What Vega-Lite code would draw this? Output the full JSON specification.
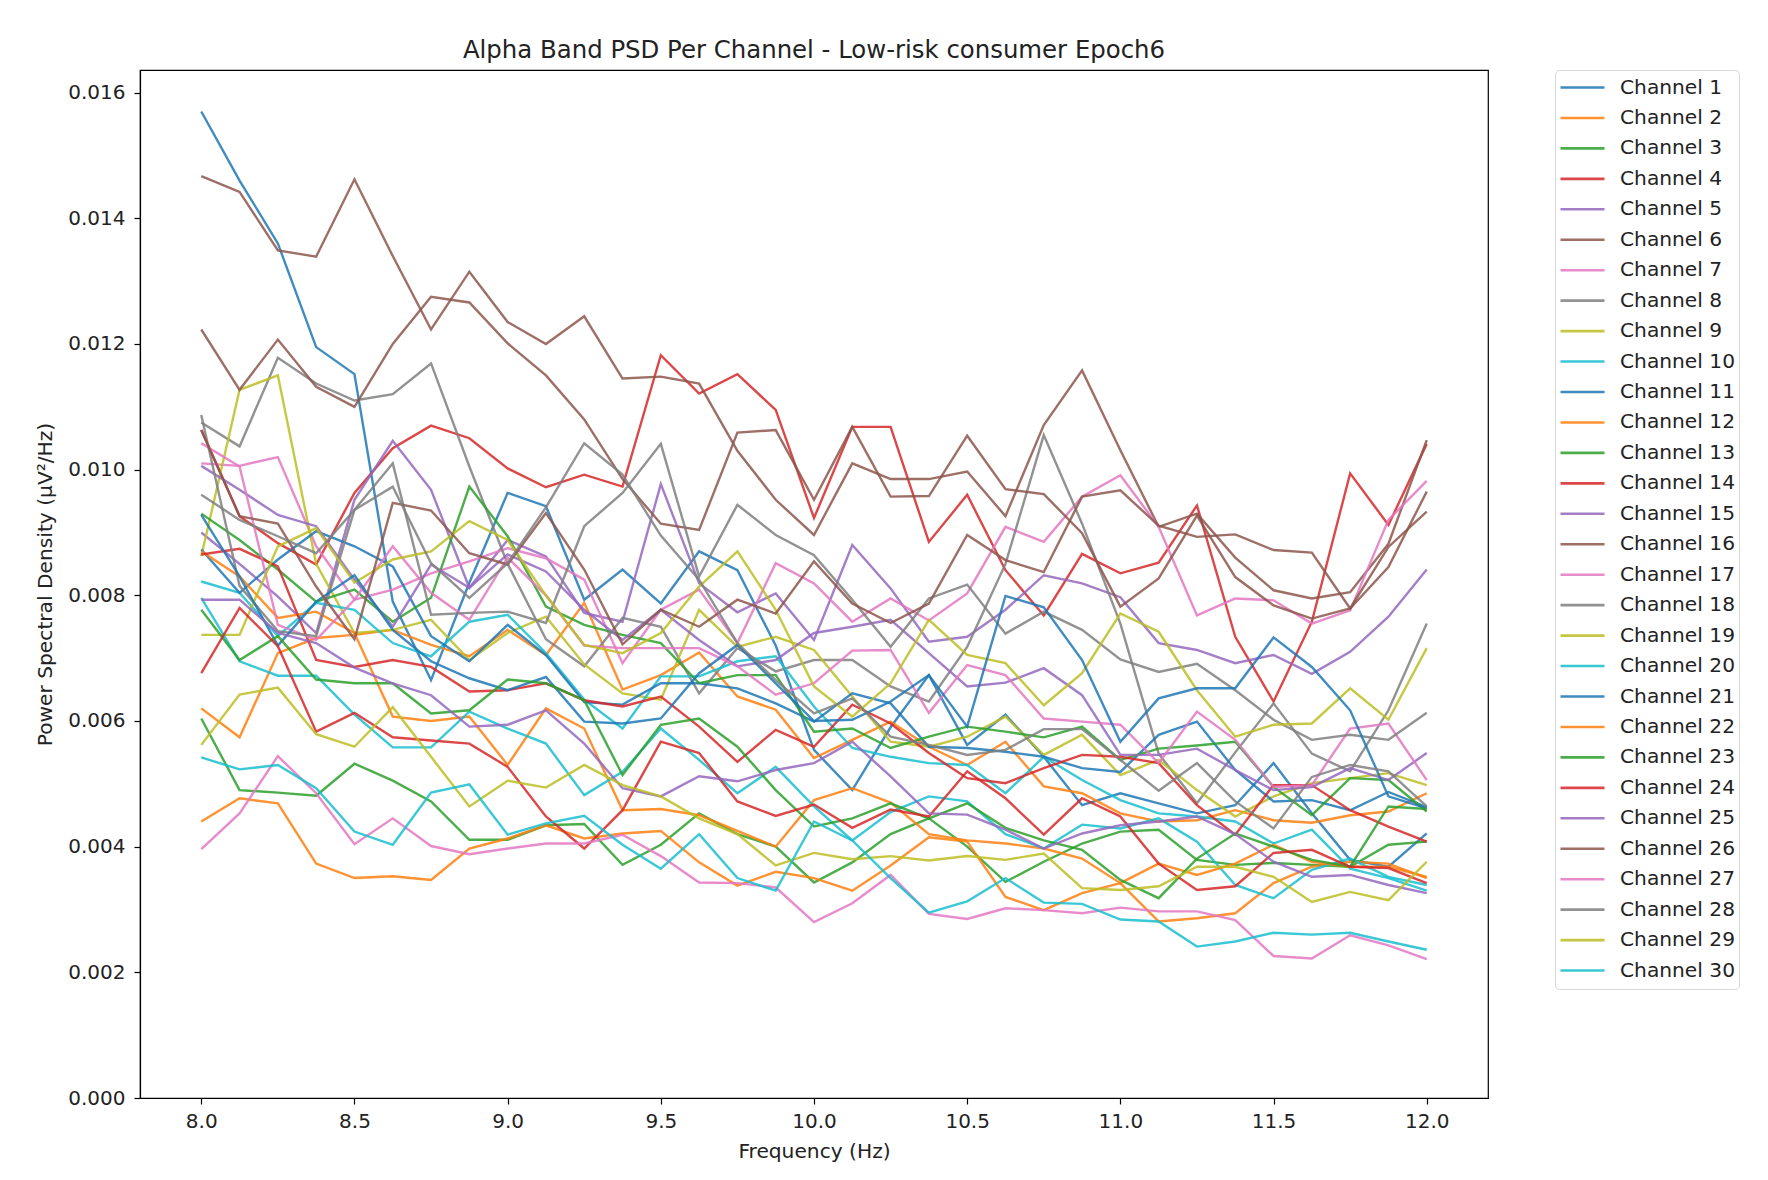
{"$schema":"https://vega.github.io/schema/vega-lite/v6.json","autosize":{"type":"none"},"padding":{"left":140,"top":70,"right":280,"bottom":82},"width":1348,"height":1028,"background":"white","config":{"view":{"stroke":"black","strokeWidth":1.2},"font":"DejaVu Sans"},"title":{"text":"Alpha Band PSD Per Channel - Low-risk consumer Epoch6","font":"DejaVu Sans","fontSize":24.4,"fontWeight":"normal","color":"#222222","anchor":"middle","offset":6},
"data":{"values":[
{"f":8,"c":1,"v":0.0157},{"f":8.125,"c":1,"v":0.0146},{"f":8.25,"c":1,"v":0.0136},{"f":8.375,"c":1,"v":0.01195},{"f":8.5,"c":1,"v":0.01152},{"f":8.625,"c":1,"v":0.0079},{"f":8.75,"c":1,"v":0.00665},{"f":8.875,"c":1,"v":0.0082},{"f":9,"c":1,"v":0.00963},{"f":9.125,"c":1,"v":0.00942},{"f":9.25,"c":1,"v":0.00793},{"f":9.375,"c":1,"v":0.00841},{"f":9.5,"c":1,"v":0.00787},{"f":9.625,"c":1,"v":0.0087},{"f":9.75,"c":1,"v":0.0084},{"f":9.875,"c":1,"v":0.0072},{"f":10,"c":1,"v":0.00554},{"f":10.125,"c":1,"v":0.0049},{"f":10.25,"c":1,"v":0.0059},{"f":10.375,"c":1,"v":0.00673},{"f":10.5,"c":1,"v":0.00562},{"f":10.625,"c":1,"v":0.0061},{"f":10.75,"c":1,"v":0.00543},{"f":10.875,"c":1,"v":0.00466},{"f":11,"c":1,"v":0.00485},{"f":11.125,"c":1,"v":0.00469},{"f":11.25,"c":1,"v":0.00453},{"f":11.375,"c":1,"v":0.00466},{"f":11.5,"c":1,"v":0.00533},{"f":11.625,"c":1,"v":0.00453},{"f":11.75,"c":1,"v":0.00379},{"f":11.875,"c":1,"v":0.00368},{"f":12,"c":1,"v":0.00421},
{"f":8,"c":2,"v":0.0062},{"f":8.125,"c":2,"v":0.00574},{"f":8.25,"c":2,"v":0.00708},{"f":8.375,"c":2,"v":0.00732},{"f":8.5,"c":2,"v":0.00737},{"f":8.625,"c":2,"v":0.00745},{"f":8.75,"c":2,"v":0.00721},{"f":8.875,"c":2,"v":0.00703},{"f":9,"c":2,"v":0.00745},{"f":9.125,"c":2,"v":0.00705},{"f":9.25,"c":2,"v":0.00788},{"f":9.375,"c":2,"v":0.0065},{"f":9.5,"c":2,"v":0.00673},{"f":9.625,"c":2,"v":0.00709},{"f":9.75,"c":2,"v":0.00639},{"f":9.875,"c":2,"v":0.00618},{"f":10,"c":2,"v":0.00541},{"f":10.125,"c":2,"v":0.0057},{"f":10.25,"c":2,"v":0.00599},{"f":10.375,"c":2,"v":0.00559},{"f":10.5,"c":2,"v":0.0053},{"f":10.625,"c":2,"v":0.00567},{"f":10.75,"c":2,"v":0.00496},{"f":10.875,"c":2,"v":0.00485},{"f":11,"c":2,"v":0.00453},{"f":11.125,"c":2,"v":0.0044},{"f":11.25,"c":2,"v":0.00442},{"f":11.375,"c":2,"v":0.00458},{"f":11.5,"c":2,"v":0.00442},{"f":11.625,"c":2,"v":0.00438},{"f":11.75,"c":2,"v":0.0045},{"f":11.875,"c":2,"v":0.00456},{"f":12,"c":2,"v":0.00485},
{"f":8,"c":3,"v":0.00604},{"f":8.125,"c":3,"v":0.0049},{"f":8.25,"c":3,"v":0.00486},{"f":8.375,"c":3,"v":0.00481},{"f":8.5,"c":3,"v":0.00532},{"f":8.625,"c":3,"v":0.00505},{"f":8.75,"c":3,"v":0.00472},{"f":8.875,"c":3,"v":0.00411},{"f":9,"c":3,"v":0.00411},{"f":9.125,"c":3,"v":0.00434},{"f":9.25,"c":3,"v":0.00436},{"f":9.375,"c":3,"v":0.00371},{"f":9.5,"c":3,"v":0.00403},{"f":9.625,"c":3,"v":0.00453},{"f":9.75,"c":3,"v":0.0042},{"f":9.875,"c":3,"v":0.004},{"f":10,"c":3,"v":0.00343},{"f":10.125,"c":3,"v":0.00375},{"f":10.25,"c":3,"v":0.0042},{"f":10.375,"c":3,"v":0.00445},{"f":10.5,"c":3,"v":0.004},{"f":10.625,"c":3,"v":0.00344},{"f":10.75,"c":3,"v":0.00376},{"f":10.875,"c":3,"v":0.00405},{"f":11,"c":3,"v":0.00424},{"f":11.125,"c":3,"v":0.00427},{"f":11.25,"c":3,"v":0.00379},{"f":11.375,"c":3,"v":0.00371},{"f":11.5,"c":3,"v":0.00374},{"f":11.625,"c":3,"v":0.00371},{"f":11.75,"c":3,"v":0.00368},{"f":11.875,"c":3,"v":0.00403},{"f":12,"c":3,"v":0.00408},
{"f":8,"c":4,"v":0.01063},{"f":8.125,"c":4,"v":0.00926},{"f":8.25,"c":4,"v":0.00883},{"f":8.375,"c":4,"v":0.00849},{"f":8.5,"c":4,"v":0.00963},{"f":8.625,"c":4,"v":0.01034},{"f":8.75,"c":4,"v":0.0107},{"f":8.875,"c":4,"v":0.0105},{"f":9,"c":4,"v":0.01002},{"f":9.125,"c":4,"v":0.00972},{"f":9.25,"c":4,"v":0.00992},{"f":9.375,"c":4,"v":0.00973},{"f":9.5,"c":4,"v":0.01182},{"f":9.625,"c":4,"v":0.01121},{"f":9.75,"c":4,"v":0.01152},{"f":9.875,"c":4,"v":0.01095},{"f":10,"c":4,"v":0.00923},{"f":10.125,"c":4,"v":0.01068},{"f":10.25,"c":4,"v":0.01068},{"f":10.375,"c":4,"v":0.00885},{"f":10.5,"c":4,"v":0.0096},{"f":10.625,"c":4,"v":0.0084},{"f":10.75,"c":4,"v":0.00768},{"f":10.875,"c":4,"v":0.00866},{"f":11,"c":4,"v":0.00835},{"f":11.125,"c":4,"v":0.00852},{"f":11.25,"c":4,"v":0.00943},{"f":11.375,"c":4,"v":0.00734},{"f":11.5,"c":4,"v":0.00631},{"f":11.625,"c":4,"v":0.00758},{"f":11.75,"c":4,"v":0.00994},{"f":11.875,"c":4,"v":0.00912},{"f":12,"c":4,"v":0.01041},
{"f":8,"c":5,"v":0.009},{"f":8.125,"c":5,"v":0.0085},{"f":8.25,"c":5,"v":0.00798},{"f":8.375,"c":5,"v":0.0074},{"f":8.5,"c":5,"v":0.00952},{"f":8.625,"c":5,"v":0.01046},{"f":8.75,"c":5,"v":0.00968},{"f":8.875,"c":5,"v":0.00812},{"f":9,"c":5,"v":0.00888},{"f":9.125,"c":5,"v":0.00862},{"f":9.25,"c":5,"v":0.00772},{"f":9.375,"c":5,"v":0.00758},{"f":9.5,"c":5,"v":0.00977},{"f":9.625,"c":5,"v":0.00819},{"f":9.75,"c":5,"v":0.00773},{"f":9.875,"c":5,"v":0.00803},{"f":10,"c":5,"v":0.00729},{"f":10.125,"c":5,"v":0.0088},{"f":10.25,"c":5,"v":0.00811},{"f":10.375,"c":5,"v":0.00726},{"f":10.5,"c":5,"v":0.00734},{"f":10.625,"c":5,"v":0.00777},{"f":10.75,"c":5,"v":0.00832},{"f":10.875,"c":5,"v":0.00819},{"f":11,"c":5,"v":0.00797},{"f":11.125,"c":5,"v":0.00724},{"f":11.25,"c":5,"v":0.00713},{"f":11.375,"c":5,"v":0.00692},{"f":11.5,"c":5,"v":0.00705},{"f":11.625,"c":5,"v":0.00675},{"f":11.75,"c":5,"v":0.0071},{"f":11.875,"c":5,"v":0.00766},{"f":12,"c":5,"v":0.00841},
{"f":8,"c":6,"v":0.01467},{"f":8.125,"c":6,"v":0.01442},{"f":8.25,"c":6,"v":0.01349},{"f":8.375,"c":6,"v":0.01339},{"f":8.5,"c":6,"v":0.01462},{"f":8.625,"c":6,"v":0.0134},{"f":8.75,"c":6,"v":0.01223},{"f":8.875,"c":6,"v":0.01315},{"f":9,"c":6,"v":0.01235},{"f":9.125,"c":6,"v":0.012},{"f":9.25,"c":6,"v":0.01244},{"f":9.375,"c":6,"v":0.01145},{"f":9.5,"c":6,"v":0.01148},{"f":9.625,"c":6,"v":0.01137},{"f":9.75,"c":6,"v":0.0103},{"f":9.875,"c":6,"v":0.00952},{"f":10,"c":6,"v":0.00896},{"f":10.125,"c":6,"v":0.0101},{"f":10.25,"c":6,"v":0.00985},{"f":10.375,"c":6,"v":0.00985},{"f":10.5,"c":6,"v":0.00997},{"f":10.625,"c":6,"v":0.00926},{"f":10.75,"c":6,"v":0.01071},{"f":10.875,"c":6,"v":0.01158},{"f":11,"c":6,"v":0.01031},{"f":11.125,"c":6,"v":0.00909},{"f":11.25,"c":6,"v":0.0093},{"f":11.375,"c":6,"v":0.0086},{"f":11.5,"c":6,"v":0.00808},{"f":11.625,"c":6,"v":0.00795},{"f":11.75,"c":6,"v":0.00805},{"f":11.875,"c":6,"v":0.00882},{"f":12,"c":6,"v":0.01047},
{"f":8,"c":7,"v":0.0101},{"f":8.125,"c":7,"v":0.01006},{"f":8.25,"c":7,"v":0.0102},{"f":8.375,"c":7,"v":0.00878},{"f":8.5,"c":7,"v":0.00793},{"f":8.625,"c":7,"v":0.00809},{"f":8.75,"c":7,"v":0.00835},{"f":8.875,"c":7,"v":0.00854},{"f":9,"c":7,"v":0.00875},{"f":9.125,"c":7,"v":0.00859},{"f":9.25,"c":7,"v":0.00825},{"f":9.375,"c":7,"v":0.00692},{"f":9.5,"c":7,"v":0.00777},{"f":9.625,"c":7,"v":0.00809},{"f":9.75,"c":7,"v":0.00724},{"f":9.875,"c":7,"v":0.00851},{"f":10,"c":7,"v":0.00819},{"f":10.125,"c":7,"v":0.00758},{"f":10.25,"c":7,"v":0.00795},{"f":10.375,"c":7,"v":0.0076},{"f":10.5,"c":7,"v":0.00803},{"f":10.625,"c":7,"v":0.00909},{"f":10.75,"c":7,"v":0.00885},{"f":10.875,"c":7,"v":0.00957},{"f":11,"c":7,"v":0.00991},{"f":11.125,"c":7,"v":0.00909},{"f":11.25,"c":7,"v":0.00768},{"f":11.375,"c":7,"v":0.00795},{"f":11.5,"c":7,"v":0.00792},{"f":11.625,"c":7,"v":0.00755},{"f":11.75,"c":7,"v":0.00776},{"f":11.875,"c":7,"v":0.0092},{"f":12,"c":7,"v":0.00982},
{"f":8,"c":8,"v":0.01075},{"f":8.125,"c":8,"v":0.01037},{"f":8.25,"c":8,"v":0.01178},{"f":8.375,"c":8,"v":0.01137},{"f":8.5,"c":8,"v":0.0111},{"f":8.625,"c":8,"v":0.0112},{"f":8.75,"c":8,"v":0.01169},{"f":8.875,"c":8,"v":0.01005},{"f":9,"c":8,"v":0.0085},{"f":9.125,"c":8,"v":0.0073},{"f":9.25,"c":8,"v":0.00687},{"f":9.375,"c":8,"v":0.00764},{"f":9.5,"c":8,"v":0.0075},{"f":9.625,"c":8,"v":0.00644},{"f":9.75,"c":8,"v":0.00716},{"f":9.875,"c":8,"v":0.00679},{"f":10,"c":8,"v":0.00697},{"f":10.125,"c":8,"v":0.00697},{"f":10.25,"c":8,"v":0.00655},{"f":10.375,"c":8,"v":0.00631},{"f":10.5,"c":8,"v":0.00718},{"f":10.625,"c":8,"v":0.0085},{"f":10.75,"c":8,"v":0.01055},{"f":10.875,"c":8,"v":0.00914},{"f":11,"c":8,"v":0.00755},{"f":11.125,"c":8,"v":0.00548},{"f":11.25,"c":8,"v":0.00469},{"f":11.375,"c":8,"v":0.0055},{"f":11.5,"c":8,"v":0.00628},{"f":11.625,"c":8,"v":0.00548},{"f":11.75,"c":8,"v":0.0052},{"f":11.875,"c":8,"v":0.00617},{"f":12,"c":8,"v":0.00755},
{"f":8,"c":9,"v":0.00862},{"f":8.125,"c":9,"v":0.01127},{"f":8.25,"c":9,"v":0.0115},{"f":8.375,"c":9,"v":0.0085},{"f":8.5,"c":9,"v":0.0074},{"f":8.625,"c":9,"v":0.00745},{"f":8.75,"c":9,"v":0.00761},{"f":8.875,"c":9,"v":0.00697},{"f":9,"c":9,"v":0.0074},{"f":9.125,"c":9,"v":0.00766},{"f":9.25,"c":9,"v":0.0069},{"f":9.375,"c":9,"v":0.00644},{"f":9.5,"c":9,"v":0.00634},{"f":9.625,"c":9,"v":0.00777},{"f":9.75,"c":9,"v":0.00718},{"f":9.875,"c":9,"v":0.00734},{"f":10,"c":9,"v":0.00713},{"f":10.125,"c":9,"v":0.00639},{"f":10.25,"c":9,"v":0.00567},{"f":10.375,"c":9,"v":0.00559},{"f":10.5,"c":9,"v":0.00575},{"f":10.625,"c":9,"v":0.00607},{"f":10.75,"c":9,"v":0.00546},{"f":10.875,"c":9,"v":0.00578},{"f":11,"c":9,"v":0.00514},{"f":11.125,"c":9,"v":0.00538},{"f":11.25,"c":9,"v":0.0049},{"f":11.375,"c":9,"v":0.00448},{"f":11.5,"c":9,"v":0.0048},{"f":11.625,"c":9,"v":0.00501},{"f":11.75,"c":9,"v":0.00509},{"f":11.875,"c":9,"v":0.00517},{"f":12,"c":9,"v":0.00498},
{"f":8,"c":10,"v":0.00822},{"f":8.125,"c":10,"v":0.00804},{"f":8.25,"c":10,"v":0.00735},{"f":8.375,"c":10,"v":0.00788},{"f":8.5,"c":10,"v":0.00777},{"f":8.625,"c":10,"v":0.00724},{"f":8.75,"c":10,"v":0.00703},{"f":8.875,"c":10,"v":0.00758},{"f":9,"c":10,"v":0.00769},{"f":9.125,"c":10,"v":0.00708},{"f":9.25,"c":10,"v":0.00634},{"f":9.375,"c":10,"v":0.00588},{"f":9.5,"c":10,"v":0.00671},{"f":9.625,"c":10,"v":0.00671},{"f":9.75,"c":10,"v":0.00695},{"f":9.875,"c":10,"v":0.00703},{"f":10,"c":10,"v":0.00623},{"f":10.125,"c":10,"v":0.00557},{"f":10.25,"c":10,"v":0.00543},{"f":10.375,"c":10,"v":0.00533},{"f":10.5,"c":10,"v":0.0053},{"f":10.625,"c":10,"v":0.00485},{"f":10.75,"c":10,"v":0.00543},{"f":10.875,"c":10,"v":0.00506},{"f":11,"c":10,"v":0.00474},{"f":11.125,"c":10,"v":0.00453},{"f":11.25,"c":10,"v":0.00448},{"f":11.375,"c":10,"v":0.0044},{"f":11.5,"c":10,"v":0.00405},{"f":11.625,"c":10,"v":0.00427},{"f":11.75,"c":10,"v":0.00365},{"f":11.875,"c":10,"v":0.0035},{"f":12,"c":10,"v":0.0033},
{"f":8,"c":11,"v":0.00873},{"f":8.125,"c":11,"v":0.00804},{"f":8.25,"c":11,"v":0.00857},{"f":8.375,"c":11,"v":0.00902},{"f":8.5,"c":11,"v":0.00878},{"f":8.625,"c":11,"v":0.00846},{"f":8.75,"c":11,"v":0.00735},{"f":8.875,"c":11,"v":0.00695},{"f":9,"c":11,"v":0.00753},{"f":9.125,"c":11,"v":0.00705},{"f":9.25,"c":11,"v":0.0063},{"f":9.375,"c":11,"v":0.00626},{"f":9.5,"c":11,"v":0.0066},{"f":9.625,"c":11,"v":0.0066},{"f":9.75,"c":11,"v":0.00652},{"f":9.875,"c":11,"v":0.00628},{"f":10,"c":11,"v":0.00599},{"f":10.125,"c":11,"v":0.00644},{"f":10.25,"c":11,"v":0.00628},{"f":10.375,"c":11,"v":0.00559},{"f":10.5,"c":11,"v":0.00557},{"f":10.625,"c":11,"v":0.00551},{"f":10.75,"c":11,"v":0.00543},{"f":10.875,"c":11,"v":0.00525},{"f":11,"c":11,"v":0.00519},{"f":11.125,"c":11,"v":0.00578},{"f":11.25,"c":11,"v":0.00599},{"f":11.375,"c":11,"v":0.00522},{"f":11.5,"c":11,"v":0.00472},{"f":11.625,"c":11,"v":0.00474},{"f":11.75,"c":11,"v":0.00458},{"f":11.875,"c":11,"v":0.00487},{"f":12,"c":11,"v":0.00463},
{"f":8,"c":12,"v":0.0087},{"f":8.125,"c":12,"v":0.0083},{"f":8.25,"c":12,"v":0.00764},{"f":8.375,"c":12,"v":0.00774},{"f":8.5,"c":12,"v":0.0074},{"f":8.625,"c":12,"v":0.00607},{"f":8.75,"c":12,"v":0.006},{"f":8.875,"c":12,"v":0.00607},{"f":9,"c":12,"v":0.0053},{"f":9.125,"c":12,"v":0.0062},{"f":9.25,"c":12,"v":0.00588},{"f":9.375,"c":12,"v":0.00458},{"f":9.5,"c":12,"v":0.0046},{"f":9.625,"c":12,"v":0.0045},{"f":9.75,"c":12,"v":0.00425},{"f":9.875,"c":12,"v":0.004},{"f":10,"c":12,"v":0.00474},{"f":10.125,"c":12,"v":0.00493},{"f":10.25,"c":12,"v":0.0047},{"f":10.375,"c":12,"v":0.0042},{"f":10.5,"c":12,"v":0.0041},{"f":10.625,"c":12,"v":0.00405},{"f":10.75,"c":12,"v":0.00397},{"f":10.875,"c":12,"v":0.00381},{"f":11,"c":12,"v":0.00342},{"f":11.125,"c":12,"v":0.00281},{"f":11.25,"c":12,"v":0.00286},{"f":11.375,"c":12,"v":0.00294},{"f":11.5,"c":12,"v":0.00342},{"f":11.625,"c":12,"v":0.00368},{"f":11.75,"c":12,"v":0.00376},{"f":11.875,"c":12,"v":0.00373},{"f":12,"c":12,"v":0.0035},
{"f":8,"c":13,"v":0.0093},{"f":8.125,"c":13,"v":0.00888},{"f":8.25,"c":13,"v":0.00841},{"f":8.375,"c":13,"v":0.0079},{"f":8.5,"c":13,"v":0.00809},{"f":8.625,"c":13,"v":0.00758},{"f":8.75,"c":13,"v":0.00796},{"f":8.875,"c":13,"v":0.00973},{"f":9,"c":13,"v":0.00894},{"f":9.125,"c":13,"v":0.00782},{"f":9.25,"c":13,"v":0.00753},{"f":9.375,"c":13,"v":0.00737},{"f":9.5,"c":13,"v":0.00724},{"f":9.625,"c":13,"v":0.0066},{"f":9.75,"c":13,"v":0.00673},{"f":9.875,"c":13,"v":0.00673},{"f":10,"c":13,"v":0.00583},{"f":10.125,"c":13,"v":0.00588},{"f":10.25,"c":13,"v":0.00557},{"f":10.375,"c":13,"v":0.00575},{"f":10.5,"c":13,"v":0.00591},{"f":10.625,"c":13,"v":0.00583},{"f":10.75,"c":13,"v":0.00574},{"f":10.875,"c":13,"v":0.00591},{"f":11,"c":13,"v":0.00538},{"f":11.125,"c":13,"v":0.00556},{"f":11.25,"c":13,"v":0.00561},{"f":11.375,"c":13,"v":0.00567},{"f":11.5,"c":13,"v":0.00495},{"f":11.625,"c":13,"v":0.0045},{"f":11.75,"c":13,"v":0.00509},{"f":11.875,"c":13,"v":0.00506},{"f":12,"c":13,"v":0.00456},
{"f":8,"c":14,"v":0.00865},{"f":8.125,"c":14,"v":0.00874},{"f":8.25,"c":14,"v":0.00846},{"f":8.375,"c":14,"v":0.00697},{"f":8.5,"c":14,"v":0.00686},{"f":8.625,"c":14,"v":0.00697},{"f":8.75,"c":14,"v":0.00686},{"f":8.875,"c":14,"v":0.00647},{"f":9,"c":14,"v":0.00649},{"f":9.125,"c":14,"v":0.0066},{"f":9.25,"c":14,"v":0.00633},{"f":9.375,"c":14,"v":0.00623},{"f":9.5,"c":14,"v":0.00639},{"f":9.625,"c":14,"v":0.00591},{"f":9.75,"c":14,"v":0.00535},{"f":9.875,"c":14,"v":0.00586},{"f":10,"c":14,"v":0.00559},{"f":10.125,"c":14,"v":0.00626},{"f":10.25,"c":14,"v":0.00596},{"f":10.375,"c":14,"v":0.00549},{"f":10.5,"c":14,"v":0.00509},{"f":10.625,"c":14,"v":0.00501},{"f":10.75,"c":14,"v":0.00525},{"f":10.875,"c":14,"v":0.00546},{"f":11,"c":14,"v":0.00543},{"f":11.125,"c":14,"v":0.00533},{"f":11.25,"c":14,"v":0.00466},{"f":11.375,"c":14,"v":0.00419},{"f":11.5,"c":14,"v":0.00498},{"f":11.625,"c":14,"v":0.00498},{"f":11.75,"c":14,"v":0.00458},{"f":11.875,"c":14,"v":0.00432},{"f":12,"c":14,"v":0.00408},
{"f":8,"c":15,"v":0.01006},{"f":8.125,"c":15,"v":0.00968},{"f":8.25,"c":15,"v":0.00928},{"f":8.375,"c":15,"v":0.0091},{"f":8.5,"c":15,"v":0.00825},{"f":8.625,"c":15,"v":0.0075},{"f":8.75,"c":15,"v":0.00849},{"f":8.875,"c":15,"v":0.00812},{"f":9,"c":15,"v":0.00865},{"f":9.125,"c":15,"v":0.00838},{"f":9.25,"c":15,"v":0.00777},{"f":9.375,"c":15,"v":0.00729},{"f":9.5,"c":15,"v":0.00777},{"f":9.625,"c":15,"v":0.00729},{"f":9.75,"c":15,"v":0.00687},{"f":9.875,"c":15,"v":0.00697},{"f":10,"c":15,"v":0.0074},{"f":10.125,"c":15,"v":0.0075},{"f":10.25,"c":15,"v":0.00761},{"f":10.375,"c":15,"v":0.00708},{"f":10.5,"c":15,"v":0.00655},{"f":10.625,"c":15,"v":0.00661},{"f":10.75,"c":15,"v":0.00684},{"f":10.875,"c":15,"v":0.00641},{"f":11,"c":15,"v":0.00546},{"f":11.125,"c":15,"v":0.00546},{"f":11.25,"c":15,"v":0.00556},{"f":11.375,"c":15,"v":0.00522},{"f":11.5,"c":15,"v":0.0049},{"f":11.625,"c":15,"v":0.00495},{"f":11.75,"c":15,"v":0.00525},{"f":11.875,"c":15,"v":0.00506},{"f":12,"c":15,"v":0.00549},
{"f":8,"c":16,"v":0.01223},{"f":8.125,"c":16,"v":0.01127},{"f":8.25,"c":16,"v":0.01207},{"f":8.375,"c":16,"v":0.01132},{"f":8.5,"c":16,"v":0.011},{"f":8.625,"c":16,"v":0.012},{"f":8.75,"c":16,"v":0.01275},{"f":8.875,"c":16,"v":0.01266},{"f":9,"c":16,"v":0.01201},{"f":9.125,"c":16,"v":0.0115},{"f":9.25,"c":16,"v":0.0108},{"f":9.375,"c":16,"v":0.00985},{"f":9.5,"c":16,"v":0.00914},{"f":9.625,"c":16,"v":0.00904},{"f":9.75,"c":16,"v":0.01059},{"f":9.875,"c":16,"v":0.01063},{"f":10,"c":16,"v":0.00952},{"f":10.125,"c":16,"v":0.01068},{"f":10.25,"c":16,"v":0.00957},{"f":10.375,"c":16,"v":0.00958},{"f":10.5,"c":16,"v":0.01054},{"f":10.625,"c":16,"v":0.00969},{"f":10.75,"c":16,"v":0.00961},{"f":10.875,"c":16,"v":0.00899},{"f":11,"c":16,"v":0.00782},{"f":11.125,"c":16,"v":0.00827},{"f":11.25,"c":16,"v":0.00927},{"f":11.375,"c":16,"v":0.00829},{"f":11.5,"c":16,"v":0.00784},{"f":11.625,"c":16,"v":0.00763},{"f":11.75,"c":16,"v":0.00779},{"f":11.875,"c":16,"v":0.00845},{"f":12,"c":16,"v":0.00965},
{"f":8,"c":17,"v":0.01042},{"f":8.125,"c":17,"v":0.01005},{"f":8.25,"c":17,"v":0.00753},{"f":8.375,"c":17,"v":0.00729},{"f":8.5,"c":17,"v":0.00793},{"f":8.625,"c":17,"v":0.00878},{"f":8.75,"c":17,"v":0.00804},{"f":8.875,"c":17,"v":0.00761},{"f":9,"c":17,"v":0.0086},{"f":9.125,"c":17,"v":0.008},{"f":9.25,"c":17,"v":0.0072},{"f":9.375,"c":17,"v":0.00716},{"f":9.5,"c":17,"v":0.00716},{"f":9.625,"c":17,"v":0.00716},{"f":9.75,"c":17,"v":0.00687},{"f":9.875,"c":17,"v":0.00642},{"f":10,"c":17,"v":0.0066},{"f":10.125,"c":17,"v":0.00712},{"f":10.25,"c":17,"v":0.00713},{"f":10.375,"c":17,"v":0.00613},{"f":10.5,"c":17,"v":0.00689},{"f":10.625,"c":17,"v":0.00673},{"f":10.75,"c":17,"v":0.00604},{"f":10.875,"c":17,"v":0.00599},{"f":11,"c":17,"v":0.00594},{"f":11.125,"c":17,"v":0.00533},{"f":11.25,"c":17,"v":0.00615},{"f":11.375,"c":17,"v":0.0057},{"f":11.5,"c":17,"v":0.00495},{"f":11.625,"c":17,"v":0.00498},{"f":11.75,"c":17,"v":0.00588},{"f":11.875,"c":17,"v":0.00596},{"f":12,"c":17,"v":0.00506},
{"f":8,"c":18,"v":0.01087},{"f":8.125,"c":18,"v":0.00815},{"f":8.25,"c":18,"v":0.00743},{"f":8.375,"c":18,"v":0.00735},{"f":8.5,"c":18,"v":0.00936},{"f":8.625,"c":18,"v":0.0101},{"f":8.75,"c":18,"v":0.00769},{"f":8.875,"c":18,"v":0.00772},{"f":9,"c":18,"v":0.00774},{"f":9.125,"c":18,"v":0.00756},{"f":9.25,"c":18,"v":0.0091},{"f":9.375,"c":18,"v":0.00963},{"f":9.5,"c":18,"v":0.01041},{"f":9.625,"c":18,"v":0.0083},{"f":9.75,"c":18,"v":0.00944},{"f":9.875,"c":18,"v":0.00896},{"f":10,"c":18,"v":0.00864},{"f":10.125,"c":18,"v":0.00793},{"f":10.25,"c":18,"v":0.00718},{"f":10.375,"c":18,"v":0.00795},{"f":10.5,"c":18,"v":0.00817},{"f":10.625,"c":18,"v":0.00739},{"f":10.75,"c":18,"v":0.00774},{"f":10.875,"c":18,"v":0.00745},{"f":11,"c":18,"v":0.00698},{"f":11.125,"c":18,"v":0.00678},{"f":11.25,"c":18,"v":0.00691},{"f":11.375,"c":18,"v":0.00649},{"f":11.5,"c":18,"v":0.00602},{"f":11.625,"c":18,"v":0.0057},{"f":11.75,"c":18,"v":0.00578},{"f":11.875,"c":18,"v":0.0057},{"f":12,"c":18,"v":0.00613},
{"f":8,"c":19,"v":0.00737},{"f":8.125,"c":19,"v":0.00737},{"f":8.25,"c":19,"v":0.00878},{"f":8.375,"c":19,"v":0.00907},{"f":8.5,"c":19,"v":0.0082},{"f":8.625,"c":19,"v":0.00857},{"f":8.75,"c":19,"v":0.0087},{"f":8.875,"c":19,"v":0.00918},{"f":9,"c":19,"v":0.00888},{"f":9.125,"c":19,"v":0.008},{"f":9.25,"c":19,"v":0.00721},{"f":9.375,"c":19,"v":0.00708},{"f":9.5,"c":19,"v":0.0074},{"f":9.625,"c":19,"v":0.00814},{"f":9.75,"c":19,"v":0.0087},{"f":9.875,"c":19,"v":0.00777},{"f":10,"c":19,"v":0.00655},{"f":10.125,"c":19,"v":0.00607},{"f":10.25,"c":19,"v":0.0066},{"f":10.375,"c":19,"v":0.00761},{"f":10.5,"c":19,"v":0.00705},{"f":10.625,"c":19,"v":0.00692},{"f":10.75,"c":19,"v":0.00625},{"f":10.875,"c":19,"v":0.00676},{"f":11,"c":19,"v":0.00771},{"f":11.125,"c":19,"v":0.00742},{"f":11.25,"c":19,"v":0.00649},{"f":11.375,"c":19,"v":0.00575},{"f":11.5,"c":19,"v":0.00594},{"f":11.625,"c":19,"v":0.00596},{"f":11.75,"c":19,"v":0.00652},{"f":11.875,"c":19,"v":0.00602},{"f":12,"c":19,"v":0.00716},
{"f":8,"c":20,"v":0.00796},{"f":8.125,"c":20,"v":0.00695},{"f":8.25,"c":20,"v":0.00672},{"f":8.375,"c":20,"v":0.00672},{"f":8.5,"c":20,"v":0.0061},{"f":8.625,"c":20,"v":0.00558},{"f":8.75,"c":20,"v":0.00558},{"f":8.875,"c":20,"v":0.00615},{"f":9,"c":20,"v":0.00588},{"f":9.125,"c":20,"v":0.00564},{"f":9.25,"c":20,"v":0.00482},{"f":9.375,"c":20,"v":0.00519},{"f":9.5,"c":20,"v":0.00588},{"f":9.625,"c":20,"v":0.00538},{"f":9.75,"c":20,"v":0.00485},{"f":9.875,"c":20,"v":0.00527},{"f":10,"c":20,"v":0.00464},{"f":10.125,"c":20,"v":0.0041},{"f":10.25,"c":20,"v":0.00455},{"f":10.375,"c":20,"v":0.0048},{"f":10.5,"c":20,"v":0.00472},{"f":10.625,"c":20,"v":0.0042},{"f":10.75,"c":20,"v":0.00397},{"f":10.875,"c":20,"v":0.00435},{"f":11,"c":20,"v":0.00429},{"f":11.125,"c":20,"v":0.00445},{"f":11.25,"c":20,"v":0.00408},{"f":11.375,"c":20,"v":0.00339},{"f":11.5,"c":20,"v":0.00318},{"f":11.625,"c":20,"v":0.00363},{"f":11.75,"c":20,"v":0.00381},{"f":11.875,"c":20,"v":0.00352},{"f":12,"c":20,"v":0.00339},
{"f":8,"c":21,"v":0.00928},{"f":8.125,"c":21,"v":0.0083},{"f":8.25,"c":21,"v":0.0072},{"f":8.375,"c":21,"v":0.0079},{"f":8.5,"c":21,"v":0.00832},{"f":8.625,"c":21,"v":0.00745},{"f":8.75,"c":21,"v":0.00695},{"f":8.875,"c":21,"v":0.00668},{"f":9,"c":21,"v":0.00649},{"f":9.125,"c":21,"v":0.0067},{"f":9.25,"c":21,"v":0.00599},{"f":9.375,"c":21,"v":0.00596},{"f":9.5,"c":21,"v":0.00604},{"f":9.625,"c":21,"v":0.00676},{"f":9.75,"c":21,"v":0.00721},{"f":9.875,"c":21,"v":0.0066},{"f":10,"c":21,"v":0.006},{"f":10.125,"c":21,"v":0.00602},{"f":10.25,"c":21,"v":0.00631},{"f":10.375,"c":21,"v":0.00673},{"f":10.5,"c":21,"v":0.00591},{"f":10.625,"c":21,"v":0.00799},{"f":10.75,"c":21,"v":0.00781},{"f":10.875,"c":21,"v":0.00697},{"f":11,"c":21,"v":0.00567},{"f":11.125,"c":21,"v":0.00636},{"f":11.25,"c":21,"v":0.00652},{"f":11.375,"c":21,"v":0.00652},{"f":11.5,"c":21,"v":0.00733},{"f":11.625,"c":21,"v":0.00686},{"f":11.75,"c":21,"v":0.00617},{"f":11.875,"c":21,"v":0.0048},{"f":12,"c":21,"v":0.00461},
{"f":8,"c":22,"v":0.0044},{"f":8.125,"c":22,"v":0.00477},{"f":8.25,"c":22,"v":0.00469},{"f":8.375,"c":22,"v":0.00373},{"f":8.5,"c":22,"v":0.0035},{"f":8.625,"c":22,"v":0.00353},{"f":8.75,"c":22,"v":0.00347},{"f":8.875,"c":22,"v":0.00397},{"f":9,"c":22,"v":0.00413},{"f":9.125,"c":22,"v":0.00434},{"f":9.25,"c":22,"v":0.00413},{"f":9.375,"c":22,"v":0.00421},{"f":9.5,"c":22,"v":0.00425},{"f":9.625,"c":22,"v":0.00375},{"f":9.75,"c":22,"v":0.00338},{"f":9.875,"c":22,"v":0.0036},{"f":10,"c":22,"v":0.0035},{"f":10.125,"c":22,"v":0.0033},{"f":10.25,"c":22,"v":0.0037},{"f":10.375,"c":22,"v":0.00415},{"f":10.5,"c":22,"v":0.00408},{"f":10.625,"c":22,"v":0.0032},{"f":10.75,"c":22,"v":0.00299},{"f":10.875,"c":22,"v":0.00326},{"f":11,"c":22,"v":0.00342},{"f":11.125,"c":22,"v":0.00373},{"f":11.25,"c":22,"v":0.00355},{"f":11.375,"c":22,"v":0.00373},{"f":11.5,"c":22,"v":0.00403},{"f":11.625,"c":22,"v":0.00376},{"f":11.75,"c":22,"v":0.00368},{"f":11.875,"c":22,"v":0.00368},{"f":12,"c":22,"v":0.00352},
{"f":8,"c":23,"v":0.00777},{"f":8.125,"c":23,"v":0.00697},{"f":8.25,"c":23,"v":0.00735},{"f":8.375,"c":23,"v":0.00666},{"f":8.5,"c":23,"v":0.0066},{"f":8.625,"c":23,"v":0.0066},{"f":8.75,"c":23,"v":0.00612},{"f":8.875,"c":23,"v":0.00617},{"f":9,"c":23,"v":0.00666},{"f":9.125,"c":23,"v":0.0066},{"f":9.25,"c":23,"v":0.00633},{"f":9.375,"c":23,"v":0.00514},{"f":9.5,"c":23,"v":0.00594},{"f":9.625,"c":23,"v":0.00604},{"f":9.75,"c":23,"v":0.00559},{"f":9.875,"c":23,"v":0.0049},{"f":10,"c":23,"v":0.00432},{"f":10.125,"c":23,"v":0.00445},{"f":10.25,"c":23,"v":0.00469},{"f":10.375,"c":23,"v":0.00445},{"f":10.5,"c":23,"v":0.00469},{"f":10.625,"c":23,"v":0.0043},{"f":10.75,"c":23,"v":0.0041},{"f":10.875,"c":23,"v":0.00395},{"f":11,"c":23,"v":0.00347},{"f":11.125,"c":23,"v":0.00318},{"f":11.25,"c":23,"v":0.00381},{"f":11.375,"c":23,"v":0.00421},{"f":11.5,"c":23,"v":0.004},{"f":11.625,"c":23,"v":0.00379},{"f":11.75,"c":23,"v":0.00368},{"f":11.875,"c":23,"v":0.00464},{"f":12,"c":23,"v":0.0046},
{"f":8,"c":24,"v":0.00676},{"f":8.125,"c":24,"v":0.0078},{"f":8.25,"c":24,"v":0.00719},{"f":8.375,"c":24,"v":0.00583},{"f":8.5,"c":24,"v":0.00613},{"f":8.625,"c":24,"v":0.00574},{"f":8.75,"c":24,"v":0.00569},{"f":8.875,"c":24,"v":0.00564},{"f":9,"c":24,"v":0.00527},{"f":9.125,"c":24,"v":0.00448},{"f":9.25,"c":24,"v":0.00397},{"f":9.375,"c":24,"v":0.00458},{"f":9.5,"c":24,"v":0.00567},{"f":9.625,"c":24,"v":0.00549},{"f":9.75,"c":24,"v":0.00472},{"f":9.875,"c":24,"v":0.00449},{"f":10,"c":24,"v":0.00467},{"f":10.125,"c":24,"v":0.0043},{"f":10.25,"c":24,"v":0.00459},{"f":10.375,"c":24,"v":0.00448},{"f":10.5,"c":24,"v":0.0052},{"f":10.625,"c":24,"v":0.00477},{"f":10.75,"c":24,"v":0.00419},{"f":10.875,"c":24,"v":0.00477},{"f":11,"c":24,"v":0.00448},{"f":11.125,"c":24,"v":0.00373},{"f":11.25,"c":24,"v":0.00331},{"f":11.375,"c":24,"v":0.00337},{"f":11.5,"c":24,"v":0.0039},{"f":11.625,"c":24,"v":0.00395},{"f":11.75,"c":24,"v":0.00368},{"f":11.875,"c":24,"v":0.00366},{"f":12,"c":24,"v":0.00342},
{"f":8,"c":25,"v":0.00793},{"f":8.125,"c":25,"v":0.00793},{"f":8.25,"c":25,"v":0.0074},{"f":8.375,"c":25,"v":0.00724},{"f":8.5,"c":25,"v":0.00685},{"f":8.625,"c":25,"v":0.0066},{"f":8.75,"c":25,"v":0.00641},{"f":8.875,"c":25,"v":0.00591},{"f":9,"c":25,"v":0.00594},{"f":9.125,"c":25,"v":0.00617},{"f":9.25,"c":25,"v":0.00564},{"f":9.375,"c":25,"v":0.00493},{"f":9.5,"c":25,"v":0.0048},{"f":9.625,"c":25,"v":0.00512},{"f":9.75,"c":25,"v":0.00504},{"f":9.875,"c":25,"v":0.00522},{"f":10,"c":25,"v":0.00533},{"f":10.125,"c":25,"v":0.00567},{"f":10.25,"c":25,"v":0.00512},{"f":10.375,"c":25,"v":0.00453},{"f":10.5,"c":25,"v":0.00451},{"f":10.625,"c":25,"v":0.00427},{"f":10.75,"c":25,"v":0.00397},{"f":10.875,"c":25,"v":0.00421},{"f":11,"c":25,"v":0.00434},{"f":11.125,"c":25,"v":0.0044},{"f":11.25,"c":25,"v":0.00448},{"f":11.375,"c":25,"v":0.0042},{"f":11.5,"c":25,"v":0.00376},{"f":11.625,"c":25,"v":0.00352},{"f":11.75,"c":25,"v":0.00355},{"f":11.875,"c":25,"v":0.00339},{"f":12,"c":25,"v":0.00326},
{"f":8,"c":26,"v":0.01063},{"f":8.125,"c":26,"v":0.00926},{"f":8.25,"c":26,"v":0.00914},{"f":8.375,"c":26,"v":0.00814},{"f":8.5,"c":26,"v":0.0073},{"f":8.625,"c":26,"v":0.00947},{"f":8.75,"c":26,"v":0.00935},{"f":8.875,"c":26,"v":0.00867},{"f":9,"c":26,"v":0.00849},{"f":9.125,"c":26,"v":0.00931},{"f":9.25,"c":26,"v":0.00841},{"f":9.375,"c":26,"v":0.00722},{"f":9.5,"c":26,"v":0.00777},{"f":9.625,"c":26,"v":0.0075},{"f":9.75,"c":26,"v":0.00793},{"f":9.875,"c":26,"v":0.00771},{"f":10,"c":26,"v":0.00854},{"f":10.125,"c":26,"v":0.00787},{"f":10.25,"c":26,"v":0.00756},{"f":10.375,"c":26,"v":0.00787},{"f":10.5,"c":26,"v":0.00896},{"f":10.625,"c":26,"v":0.00856},{"f":10.75,"c":26,"v":0.00837},{"f":10.875,"c":26,"v":0.00957},{"f":11,"c":26,"v":0.00967},{"f":11.125,"c":26,"v":0.00911},{"f":11.25,"c":26,"v":0.00893},{"f":11.375,"c":26,"v":0.00897},{"f":11.5,"c":26,"v":0.00872},{"f":11.625,"c":26,"v":0.00868},{"f":11.75,"c":26,"v":0.00779},{"f":11.875,"c":26,"v":0.00877},{"f":12,"c":26,"v":0.00933},
{"f":8,"c":27,"v":0.00396},{"f":8.125,"c":27,"v":0.00453},{"f":8.25,"c":27,"v":0.00544},{"f":8.375,"c":27,"v":0.00485},{"f":8.5,"c":27,"v":0.00404},{"f":8.625,"c":27,"v":0.00445},{"f":8.75,"c":27,"v":0.00401},{"f":8.875,"c":27,"v":0.00388},{"f":9,"c":27,"v":0.00397},{"f":9.125,"c":27,"v":0.00405},{"f":9.25,"c":27,"v":0.00405},{"f":9.375,"c":27,"v":0.00419},{"f":9.5,"c":27,"v":0.00385},{"f":9.625,"c":27,"v":0.00343},{"f":9.75,"c":27,"v":0.00342},{"f":9.875,"c":27,"v":0.00335},{"f":10,"c":27,"v":0.0028},{"f":10.125,"c":27,"v":0.0031},{"f":10.25,"c":27,"v":0.00355},{"f":10.375,"c":27,"v":0.00293},{"f":10.5,"c":27,"v":0.00285},{"f":10.625,"c":27,"v":0.00302},{"f":10.75,"c":27,"v":0.00299},{"f":10.875,"c":27,"v":0.00294},{"f":11,"c":27,"v":0.00303},{"f":11.125,"c":27,"v":0.00297},{"f":11.25,"c":27,"v":0.00297},{"f":11.375,"c":27,"v":0.00283},{"f":11.5,"c":27,"v":0.00226},{"f":11.625,"c":27,"v":0.00222},{"f":11.75,"c":27,"v":0.00259},{"f":11.875,"c":27,"v":0.00243},{"f":12,"c":27,"v":0.00221},
{"f":8,"c":28,"v":0.0096},{"f":8.125,"c":28,"v":0.0092},{"f":8.25,"c":28,"v":0.00894},{"f":8.375,"c":28,"v":0.00867},{"f":8.5,"c":28,"v":0.00936},{"f":8.625,"c":28,"v":0.00973},{"f":8.75,"c":28,"v":0.00851},{"f":8.875,"c":28,"v":0.00796},{"f":9,"c":28,"v":0.00851},{"f":9.125,"c":28,"v":0.0094},{"f":9.25,"c":28,"v":0.01042},{"f":9.375,"c":28,"v":0.00992},{"f":9.5,"c":28,"v":0.00895},{"f":9.625,"c":28,"v":0.00825},{"f":9.75,"c":28,"v":0.00724},{"f":9.875,"c":28,"v":0.00665},{"f":10,"c":28,"v":0.00612},{"f":10.125,"c":28,"v":0.00636},{"f":10.25,"c":28,"v":0.00575},{"f":10.375,"c":28,"v":0.00562},{"f":10.5,"c":28,"v":0.00546},{"f":10.625,"c":28,"v":0.00554},{"f":10.75,"c":28,"v":0.00587},{"f":10.875,"c":28,"v":0.00587},{"f":11,"c":28,"v":0.00538},{"f":11.125,"c":28,"v":0.00489},{"f":11.25,"c":28,"v":0.00533},{"f":11.375,"c":28,"v":0.00472},{"f":11.5,"c":28,"v":0.00429},{"f":11.625,"c":28,"v":0.00511},{"f":11.75,"c":28,"v":0.0053},{"f":11.875,"c":28,"v":0.0052},{"f":12,"c":28,"v":0.00464},
{"f":8,"c":29,"v":0.00562},{"f":8.125,"c":29,"v":0.00642},{"f":8.25,"c":29,"v":0.00653},{"f":8.375,"c":29,"v":0.00579},{"f":8.5,"c":29,"v":0.00559},{"f":8.625,"c":29,"v":0.00622},{"f":8.75,"c":29,"v":0.00543},{"f":8.875,"c":29,"v":0.00464},{"f":9,"c":29,"v":0.00505},{"f":9.125,"c":29,"v":0.00494},{"f":9.25,"c":29,"v":0.0053},{"f":9.375,"c":29,"v":0.00498},{"f":9.5,"c":29,"v":0.0048},{"f":9.625,"c":29,"v":0.00445},{"f":9.75,"c":29,"v":0.0042},{"f":9.875,"c":29,"v":0.0037},{"f":10,"c":29,"v":0.0039},{"f":10.125,"c":29,"v":0.0038},{"f":10.25,"c":29,"v":0.00385},{"f":10.375,"c":29,"v":0.00378},{"f":10.5,"c":29,"v":0.00385},{"f":10.625,"c":29,"v":0.00379},{"f":10.75,"c":29,"v":0.00389},{"f":10.875,"c":29,"v":0.00334},{"f":11,"c":29,"v":0.00331},{"f":11.125,"c":29,"v":0.00337},{"f":11.25,"c":29,"v":0.00368},{"f":11.375,"c":29,"v":0.00368},{"f":11.5,"c":29,"v":0.00352},{"f":11.625,"c":29,"v":0.00312},{"f":11.75,"c":29,"v":0.00328},{"f":11.875,"c":29,"v":0.00315},{"f":12,"c":29,"v":0.00376},
{"f":8,"c":30,"v":0.00542},{"f":8.125,"c":30,"v":0.00523},{"f":8.25,"c":30,"v":0.0053},{"f":8.375,"c":30,"v":0.00493},{"f":8.5,"c":30,"v":0.00424},{"f":8.625,"c":30,"v":0.00403},{"f":8.75,"c":30,"v":0.00486},{"f":8.875,"c":30,"v":0.00499},{"f":9,"c":30,"v":0.00419},{"f":9.125,"c":30,"v":0.00437},{"f":9.25,"c":30,"v":0.00449},{"f":9.375,"c":30,"v":0.00403},{"f":9.5,"c":30,"v":0.00365},{"f":9.625,"c":30,"v":0.0042},{"f":9.75,"c":30,"v":0.0035},{"f":9.875,"c":30,"v":0.0033},{"f":10,"c":30,"v":0.0044},{"f":10.125,"c":30,"v":0.0041},{"f":10.25,"c":30,"v":0.0035},{"f":10.375,"c":30,"v":0.00295},{"f":10.5,"c":30,"v":0.00313},{"f":10.625,"c":30,"v":0.0035},{"f":10.75,"c":30,"v":0.00311},{"f":10.875,"c":30,"v":0.00309},{"f":11,"c":30,"v":0.00284},{"f":11.125,"c":30,"v":0.00281},{"f":11.25,"c":30,"v":0.00241},{"f":11.375,"c":30,"v":0.00249},{"f":11.5,"c":30,"v":0.00263},{"f":11.625,"c":30,"v":0.0026},{"f":11.75,"c":30,"v":0.00263},{"f":11.875,"c":30,"v":0.00249},{"f":12,"c":30,"v":0.00236}
]},
"mark":{"type":"line","strokeWidth":2.4,"opacity":0.85,"clip":false},
"encoding":{
"x":{"field":"f","type":"quantitative","title":"Frequency (Hz)","scale":{"domain":[7.8,12.2],"nice":false,"zero":false},"axis":{"grid":false,"values":[8,8.5,9,9.5,10,10.5,11,11.5,12],"format":".1f","labelFont":"DejaVu Sans","labelFontSize":20,"labelColor":"#222222","titleFont":"DejaVu Sans","titleFontSize":20.2,"titleFontWeight":"normal","titleColor":"#222222","titlePadding":10,"domainColor":"black","domainWidth":1.2,"tickColor":"black","tickWidth":1.2,"tickSize":6,"labelPadding":7,"labelFlush":false}},
"y":{"field":"v","type":"quantitative","title":"Power Spectral Density (µV²/Hz)","scale":{"domain":[0,0.01636],"nice":false},"axis":{"grid":false,"values":[0,0.002,0.004,0.006,0.008,0.01,0.012,0.014,0.016],"format":".3f","labelFont":"DejaVu Sans","labelFontSize":20,"labelColor":"#222222","titleFont":"DejaVu Sans","titleFontSize":20.2,"titleFontWeight":"normal","titleColor":"#222222","titlePadding":12,"domainColor":"black","domainWidth":1.2,"tickColor":"black","tickWidth":1.2,"tickSize":6,"labelPadding":9}},
"color":{"field":"c","type":"nominal","scale":{"domain":[1,2,3,4,5,6,7,8,9,10,11,12,13,14,15,16,17,18,19,20,21,22,23,24,25,26,27,28,29,30],"range":["#1f77b4","#ff7f0e","#2ca02c","#d62728","#9467bd","#8c564b","#e377c2","#7f7f7f","#bcbd22","#17becf","#1f77b4","#ff7f0e","#2ca02c","#d62728","#9467bd","#8c564b","#e377c2","#7f7f7f","#bcbd22","#17becf","#1f77b4","#ff7f0e","#2ca02c","#d62728","#9467bd","#8c564b","#e377c2","#7f7f7f","#bcbd22","#17becf"]},"legend":{"orient":"none","legendX":1415,"legendY":0,"title":null,"columns":1,"symbolType":"stroke","symbolSize":1936,"symbolStrokeWidth":2.6,"symbolOpacity":0.85,"labelExpr":"'Channel ' + datum.label","labelFont":"DejaVu Sans","labelFontSize":20.2,"labelColor":"#222222","labelOffset":14,"labelLimit":200,"clipHeight":27,"rowPadding":3.45,"strokeColor":"#d9d9d9","fillColor":"white","cornerRadius":4,"padding":4,"values":[1,2,3,4,5,6,7,8,9,10,11,12,13,14,15,16,17,18,19,20,21,22,23,24,25,26,27,28,29,30]}}
}}
